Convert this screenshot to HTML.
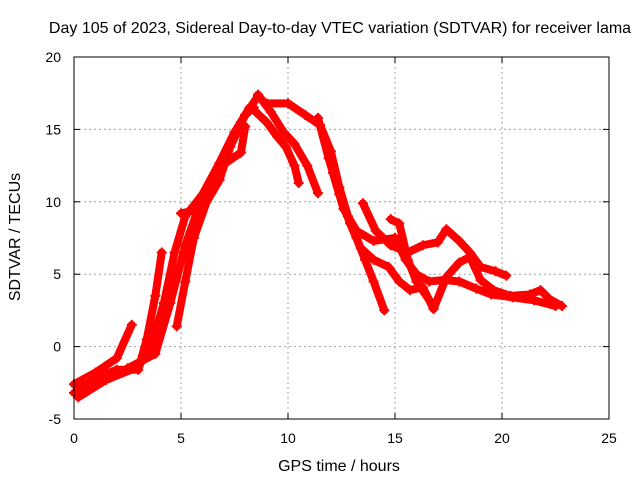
<!DOCTYPE html>
<html><head><meta charset="utf-8"><style>
body{margin:0;background:#fff}
svg{display:block;font-family:"Liberation Sans",sans-serif}
</style></head><body>
<svg id="chart" width="640" height="480">
<text x="340" y="33" font-size="16" text-anchor="middle">Day 105 of 2023, Sidereal Day-to-day VTEC variation (SDTVAR) for receiver lama</text>
<text x="339" y="471" font-size="16" text-anchor="middle">GPS time / hours</text>
<text transform="translate(20,237) rotate(-90)" font-size="16" text-anchor="middle">SDTVAR / TECUs</text>
<g id="grid"></g><g id="marks"></g>
<rect x="74" y="57" width="535" height="362" fill="none" stroke="#000" stroke-width="1"/>
<g id="axes"></g>
</svg>
<script>
const xTicks=[0,5,10,15,20,25];
const yTicks=[-5,0,5,10,15,20];
const track1=[[0,-2.6],[1,-1.8],[2,-0.8],[2.7,1.5]];
const track2=[[0,-3.2],[1,-2.2],[2,-1.6],[3,-1.6],[3.4,0.5],[3.8,3.5],[4.1,6.5]];
const track3=[[0.2,-3.5],[1.5,-2.3],[3,-1.4],[3.6,0],[4.2,3],[4.7,6.5],[5.2,9],[6,10.5],[6.8,12.7],[7.5,14.8],[8,16],[8.6,17.3]];
const track4=[[2.5,-1.5],[3.8,-0.5],[4.5,3],[5.2,7],[5.8,9.5],[6.5,11],[7.2,13.5],[7.8,15.5],[8.2,16.5]];
const track5=[[4.8,1.4],[5.2,4.5],[5.6,7.5],[6.2,10],[6.8,11.5],[7.3,13.8],[8,16],[8.4,16.5]];
const track6=[[7.2,12.8],[7.8,13.4],[8.0,15.2]];
const track7=[[5,9.2],[5.6,9.4],[6.2,10.5],[6.8,12]];
const track8=[[8.5,16.2],[9,15.5],[9.5,14.5],[9.9,13.8],[10.3,12.5],[10.5,11.3]];
const track9=[[8.6,17.4],[9.2,16.2],[9.8,14.8],[10.3,14],[10.9,12.5],[11.4,10.6]];
const track10=[[9,16.8],[10,16.8],[10.8,16],[11.5,15.3],[12,13.5],[12.4,11],[12.8,9],[13.2,7.5],[13.6,6],[14,4.5],[14.5,2.5]];
const track11=[[11.4,15.8],[11.9,13],[12.4,10.5],[12.9,8.5],[13.4,6.8],[14,6],[14.7,5.5],[15.2,4.5],[15.7,3.9],[16.3,4.1],[16.8,2.6]];
const track12=[[12.1,12],[12.6,9.5],[13.2,8],[14,7.3],[15,7.5],[15.5,6],[16,5],[16.6,4.5],[17.3,4.6],[18,4.5],[18.8,4],[19.5,3.6],[20.5,3.4],[21.5,3.2],[22.5,2.8]];
const track13=[[13.5,9.9],[14.1,8],[14.8,7],[15.6,6.5],[16.3,7],[17,7.2],[17.4,8.1],[18,7.3],[18.5,6.5],[19,5.5],[19.7,5.2],[20.2,4.9]];
const track14=[[14.8,8.8],[15.2,8.5],[15.6,6],[16,4.5],[16.8,2.8]];
const track15=[[16.8,2.6],[17.4,4.8],[18,5.8],[18.5,6.2],[19,4.6],[19.6,3.9],[20.4,3.5],[21.3,3.6],[21.8,3.9],[22.2,3.3],[22.8,2.8]];
const tracks=[track1,track2,track3,track4,track5,track6,track7,track8,track9,track10,track11,track12,track13,track14,track15];

const NS="http://www.w3.org/2000/svg";
const X=h=>74+(h/25)*535;
const Y=v=>419-((v+5)/25)*362;
function mk(tag,attrs,parent){const e=document.createElementNS(NS,tag);for(const k in attrs)e.setAttribute(k,attrs[k]);parent.appendChild(e);return e;}
const grid=document.getElementById('grid'),axes=document.getElementById('axes'),marks=document.getElementById('marks');
xTicks.forEach(t=>{
  if(t>0&&t<25){const l=mk('line',{x1:X(t),x2:X(t),y1:57,y2:419,stroke:'#a0a0a0','stroke-dasharray':'2,3'},grid);
  
  }
  const tx=mk('text',{x:X(t),y:443,'font-size':14,'text-anchor':'middle'},axes);tx.textContent=t;
  
  
  mk('line',{x1:X(t),x2:X(t),y1:419,y2:413,stroke:'#000'},axes);
  mk('line',{x1:X(t),x2:X(t),y1:57,y2:63,stroke:'#000'},axes);
});
yTicks.forEach(t=>{
  if(t>-5&&t<20){const l=mk('line',{x1:74,x2:609,y1:Y(t),y2:Y(t),stroke:'#a0a0a0','stroke-dasharray':'2,3'},grid);
  
  }
  const tx=mk('text',{x:61,y:Y(t)+5,'font-size':14,'text-anchor':'end'},axes);tx.textContent=t;
  
  
  mk('line',{x1:74,x2:80,y1:Y(t),y2:Y(t),stroke:'#000'},axes);
  mk('line',{x1:609,x2:603,y1:Y(t),y2:Y(t),stroke:'#000'},axes);
});
tracks.forEach((tr,i)=>{
  const p=mk('polyline',{points:tr.map(d=>X(d[0])+','+Y(d[1])).join(' '),fill:'none',stroke:'#ff0000','stroke-width':8,'stroke-linejoin':'round','stroke-linecap':'round'},marks);
  
  
  tr.forEach(d=>{
    const m=mk('path',{d:`M${X(d[0])-5},${Y(d[1])}h10M${X(d[0])},${Y(d[1])-5}v10`,stroke:'#ff0000','stroke-width':2},marks);
    
    
  });
});
</script>
</body></html>
